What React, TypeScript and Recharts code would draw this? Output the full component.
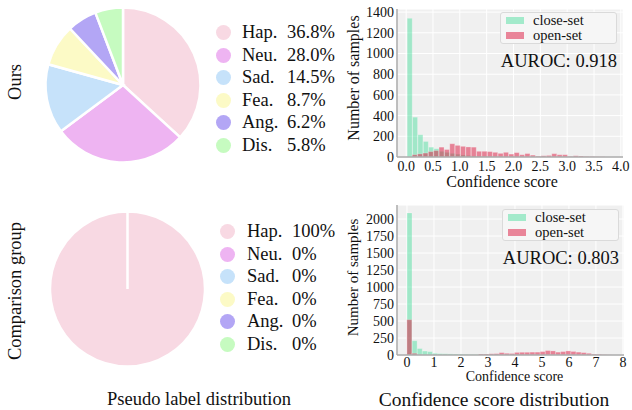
import {
  BarChart, Bar, XAxis, YAxis, CartesianGrid, Legend, PieChart, Pie, Cell,
} from 'recharts'

const FONT = "'Liberation Serif', 'Times New Roman', serif"
const BORDER = '#aaaaaa'
const INK = '#111111'

// pie data
const emotions = ['Hap.', 'Neu.', 'Sad.', 'Fea.', 'Ang.', 'Dis.']
const emotionColors = ['#f8d9e3', '#eeb4f2', '#c6e2fa', '#fcfac6', '#b3a6f5', '#c6fbc0']
const oursShare = [36.8, 28.0, 14.5, 8.7, 6.2, 5.8]
const comparisonShare = [100, 0, 0, 0, 0, 0]

// top histogram (Ours), bin width 0.1
const topBinStart = 0.02
const topBinWidth = 0.1
const topCloseSet = [
  1340, 385, 215, 150, 95, 80, 55, 45, 35, 28, 20, 15, 10, 8, 5, 4, 3, 2, 2, 1,
  0, 0, 0, 0, 0, 0, 0, 0, 0, 0, 0, 0, 0, 0, 0, 0, 0,
]
const topOpenSet = [
  0, 22, 30, 38, 52, 62, 95, 72, 128, 112, 103, 97, 95, 55, 55, 52, 45, 35, 45, 28,
  42, 22, 33, 18, 8, 12, 15, 32, 22, 22, 6, 12, 9, 5, 4, 3, 2,
]
const topXTicks = [0, 0.5, 1, 1.5, 2, 2.5, 3, 3.5, 4]
const topYTicks = [0, 200, 400, 600, 800, 1000, 1200, 1400]

// bottom histogram (Comparison group), bin width 0.19
const bottomBinStart = 0
const bottomBinWidth = 0.19
const bottomCloseSet = [
  2090, 210, 95, 58, 50, 25, 20, 18, 16, 14, 12, 10, 8, 7, 6, 5, 4, 4, 3, 3,
  2, 2, 2, 1, 1, 1, 0, 0, 0, 0, 0, 0, 0, 0, 0, 0, 0, 0, 0, 0,
]
const bottomOpenSet = [
  520, 25, 5, 0, 0, 0, 0, 0, 0, 0, 0, 0, 0, 0, 15, 15, 18, 20, 35, 25,
  22, 38, 40, 40, 42, 42, 50, 65, 60, 42, 50, 60, 52, 42, 35, 25, 12, 10, 5, 2,
]
const bottomXTicks = [0, 1, 2, 3, 4, 5, 6, 7, 8]
const bottomYTicks = [0, 250, 500, 750, 1000, 1250, 1500, 1750, 2000]

const toBins = (start: number, width: number, close: number[], open: number[]) =>
  close.map((c, i) => ({ x: +(start + width * (i + 0.5)).toFixed(3), close: c, open: open[i] }))

const histLegend = (auroc: string) => (props: any) => {
  const payload = props.payload || []
  return (
    <div style={{ fontFamily: FONT, color: INK }}>
      <div style={{
        border: '1px solid #dadada', borderRadius: 3, background: '#f6f6f6',
        padding: '0px 4px 0px 5px', fontSize: 14.5, lineHeight: '15px',
      }}>
        {payload.map((p: any) => (
          <div key={p.value} style={{ display: 'flex', alignItems: 'center', height: 15 }}>
            <span style={{
              display: 'inline-block', width: 18, height: 7, marginRight: 9,
              background: p.color, opacity: p.value === 'close-set' ? 0.45 : 0.5,
            }} />
            {p.value}
          </div>
        ))}
      </div>
      <div style={{ textAlign: 'right', fontSize: 18.5, marginTop: 7, whiteSpace: 'nowrap' }}>
        AUROC: {auroc}
      </div>
    </div>
  )
}

const XTick = (props: any) => (
  <text x={props.x} y={props.y} dy="0.8em" textAnchor="middle" fill={INK}
    fontFamily={FONT} fontSize={props.size}>{props.fmt(props.payload.value)}</text>
)
const YTick = (props: any) => (
  <text x={props.x} y={props.y} dy="0.35em" textAnchor="end" fill={INK}
    fontFamily={FONT} fontSize={props.size}>{props.payload.value}</text>
)
const XTitle = (props: any) => {
  const vb = props.viewBox
  return (
    <text x={vb.x + vb.width / 2 + props.dx} y={vb.y + vb.height - props.offset} textAnchor="middle"
      fill={INK} fontFamily={FONT} fontSize={props.size}>{props.value}</text>
  )
}
const YTitle = (props: any) => {
  const vb = props.viewBox
  const x = vb.x + 13
  const y = vb.y + vb.height / 2 + props.dy
  return (
    <text x={x} y={y} transform={`rotate(-90 ${x} ${y})`} textAnchor="middle" dominantBaseline="central"
      fill={INK} fontFamily={FONT} fontSize={props.size}>{props.value}</text>
  )
}

function Histogram(props: {
  data: any[]; domain: [number, number]; yMax: number; xTicks: number[]; yTicks: number[]
  xFmt: (v: number) => string; auroc: string; tickSize: number; marginTop: number
  marginRight: number; legendTop: number; legendLeft: number; height: number; axisHeight: number
  tickGap: number; xTitleDx: number; xTitleOffset: number; xTitleSize: number
  yTitleDy: number; yTitleSize: number
}) {
  return (
    <BarChart width={292} height={props.height} data={props.data} barCategoryGap={0} barGap="-100%"
      margin={{ top: props.marginTop, right: props.marginRight, left: 0, bottom: 0 }}>
      <CartesianGrid fill="#f0f0f0" fillOpacity={1} stroke="#ffffff" strokeWidth={1} />
      <XAxis dataKey="x" type="number" domain={props.domain} allowDataOverflow
        ticks={props.xTicks} height={props.axisHeight} interval={0}
        tick={<XTick size={props.tickSize} fmt={props.xFmt} />} tickLine={false} tickSize={0} tickMargin={props.tickGap}
        axisLine={{ stroke: BORDER, strokeWidth: 1.5 }}
        label={<XTitle value="Confidence score" size={props.xTitleSize} dx={props.xTitleDx} offset={props.xTitleOffset} />} />
      <XAxis xAxisId="top" orientation="top" type="number" domain={props.domain} allowDataOverflow
        height={0} tick={false} tickLine={false} axisLine={{ stroke: BORDER, strokeWidth: 1.5 }} />
      <YAxis type="number" domain={[0, props.yMax]} allowDataOverflow ticks={props.yTicks} width={57}
        interval={0} tick={<YTick size={props.tickSize} />} tickLine={false} tickSize={0} tickMargin={3}
        axisLine={{ stroke: BORDER, strokeWidth: 1.5 }}
        label={<YTitle value="Number of samples" size={props.yTitleSize} dy={props.yTitleDy} />} />
      <YAxis yAxisId="right" orientation="right" width={0} tick={false} tickLine={false}
        axisLine={{ stroke: BORDER, strokeWidth: 1.5 }} />
      <Legend layout="horizontal" verticalAlign="middle" align="center"
        wrapperStyle={{ top: props.legendTop, left: props.legendLeft, width: 117 }}
        content={histLegend(props.auroc)} />
      <Bar dataKey="close" name="close-set" fill="#3ddc97" fillOpacity={0.45}
        stroke="#ffffff" strokeOpacity={0.4} strokeWidth={0.6} isAnimationActive={false} />
      <Bar dataKey="open" name="open-set" fill="#dc143c" fillOpacity={0.5}
        stroke="#ffffff" strokeOpacity={0.4} strokeWidth={0.6} isAnimationActive={false} />
    </BarChart>
  )
}

function EmotionPie(props: {
  share: number[]; fmt: (v: number) => string; cx: number; cy: number
  legendLeft: number; legendTop: number; textCol: number; pctCol: number
}) {
  const data = emotions.map((name, i) => ({ name, value: props.share[i] }))
  const legend = () => (
    <div style={{ fontFamily: FONT, fontSize: 18.5, color: INK }}>
      {emotions.map((name, i) => (
        <div key={name} style={{ position: 'relative', height: 22.5 }}>
          <span style={{
            position: 'absolute', left: 0, top: 4, width: 15, height: 15, borderRadius: '50%',
            background: emotionColors[i],
          }} />
          <span style={{ position: 'absolute', left: props.textCol, top: 0, lineHeight: '22.5px' }}>{name}</span>
          <span style={{ position: 'absolute', left: props.pctCol, top: 0, lineHeight: '22.5px' }}>
            {props.fmt(props.share[i])}%
          </span>
        </div>
      ))}
    </div>
  )
  return (
    <PieChart width={340} height={190} margin={{ top: 0, right: 0, bottom: 0, left: 0 }}>
      <Pie data={data} dataKey="value" nameKey="name" cx={props.cx} cy={props.cy}
        outerRadius={77.5} startAngle={90} endAngle={-270} stroke="#ffffff" strokeWidth={2.5}
        isAnimationActive={false}>
        {data.map((d, i) => <Cell key={d.name} fill={emotionColors[i]} />)}
      </Pie>
      <Legend layout="horizontal" verticalAlign="middle" align="center"
        wrapperStyle={{ left: props.legendLeft, top: props.legendTop, width: 110 }}
        content={legend} />
    </PieChart>
  )
}

export default function App() {
  const topData = toBins(topBinStart, topBinWidth, topCloseSet, topOpenSet)
  const bottomData = toBins(bottomBinStart, bottomBinWidth, bottomCloseSet, bottomOpenSet)
  const caption = { fill: INK, fontFamily: FONT }
  return (
    <div style={{ position: 'absolute', left: 0, top: 0, width: 632, height: 410, background: '#fff', overflow: 'hidden', fontFamily: FONT }}>
      <svg width={632} height={410} style={{ position: 'absolute', left: 0, top: 0 }}>
        <text x={15} y={82} transform="rotate(-90 15 82)" textAnchor="middle" dominantBaseline="central" fontSize={18.5} {...caption}>Ours</text>
        <text x={15} y={291} transform="rotate(-90 15 291)" textAnchor="middle" dominantBaseline="central" fontSize={18.5} {...caption}>Comparison group</text>
        <text x={199} y={399} textAnchor="middle" dominantBaseline="central" fontSize={18.5} {...caption}>Pseudo label distribution</text>
        <text x={494} y={399} textAnchor="middle" dominantBaseline="central" fontSize={19.5} {...caption}>Confidence score distribution</text>
      </svg>
      <div style={{ position: 'absolute', left: 0, top: 0 }}>
        <EmotionPie share={oursShare} fmt={(v) => v.toFixed(1)} cx={123} cy={85}
          legendLeft={216} legendTop={21} textCol={26} pctCol={71} />
      </div>
      <div style={{ position: 'absolute', left: 0, top: 200 }}>
        <EmotionPie share={comparisonShare} fmt={(v) => String(v)} cx={127.5} cy={89}
          legendLeft={219.5} legendTop={20} textCol={27.5} pctCol={72.5} />
      </div>
      <div style={{ position: 'absolute', left: 340, top: 0 }}>
        <Histogram data={topData} domain={[-0.17, 4.04]} yMax={1430} xTicks={topXTicks} yTicks={topYTicks}
          xFmt={(v) => v.toFixed(1)} auroc="0.918" tickSize={14} marginTop={9} marginRight={9}
          legendTop={12} legendLeft={160} height={192} axisHeight={35} tickGap={3}
          xTitleDx={-8} xTitleOffset={4} xTitleSize={16} yTitleDy={-5} yTitleSize={16} />
      </div>
      <div style={{ position: 'absolute', left: 340, top: 195 }}>
        <Histogram data={bottomData} domain={[-0.37, 8.04]} yMax={2206} xTicks={bottomXTicks} yTicks={bottomYTicks}
          xFmt={(v) => String(v)} auroc="0.803" tickSize={14} marginTop={10} marginRight={8}
          legendTop={14} legendLeft={162} height={191} axisHeight={31} tickGap={1}
          xTitleDx={4} xTitleOffset={1} xTitleSize={14} yTitleDy={-2.5} yTitleSize={15} />
      </div>
    </div>
  )
}
